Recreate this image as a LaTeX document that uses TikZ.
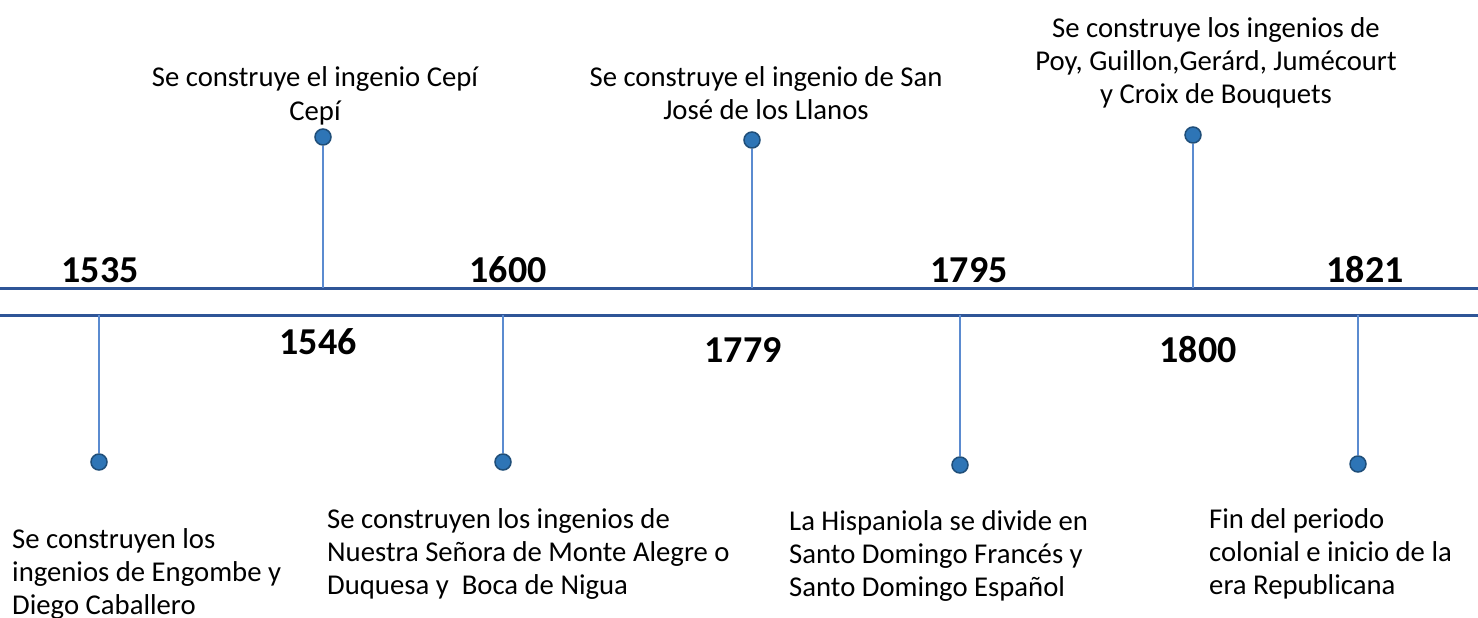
\documentclass[tikz,border=0pt]{standalone}
\usepackage{fontspec}
\setmainfont{Carlito}
\definecolor{axisblue}{HTML}{2F5597}
\definecolor{stemblue}{HTML}{5B8BD0}
\definecolor{dotfill}{HTML}{2E75B6}
\definecolor{dotedge}{HTML}{1F4E79}
\begin{document}
\begin{tikzpicture}[x=1pt,y=-1pt,
  axisline/.style={draw=axisblue,line width=3pt},
  stem/.style={draw=stemblue,line width=1.5pt},
  dotnode/.style={circle,fill=dotfill,draw=dotedge,line width=1.5pt,minimum size=16pt,inner sep=0pt},
  year/.style={font=\fontsize{38}{42}\selectfont\bfseries,inner sep=0pt,anchor=base},
  desc/.style={font=\fontsize{28.7}{33}\selectfont,inner sep=0pt},
]
\useasboundingbox (0,0) rectangle (1478,618);
% axis lines
\coordinate (UL) at (0,288);
\coordinate (UR) at (1478,288);
\coordinate (LL) at (0,315);
\coordinate (LR) at (1478,315);
\draw[axisline] (UL) -- (UR);
\draw[axisline] (LL) -- (LR);
% stem bases
\coordinate (b1546) at (323,288);
\coordinate (b1779) at (752,288);
\coordinate (b1800) at (1193,288);
\coordinate (b1535) at (99,315);
\coordinate (b1600) at (503,315);
\coordinate (b1795) at (960,315);
\coordinate (b1821) at (1358,315);
% dots
\node[dotnode] (d1546) at (323,137) {};
\node[dotnode] (d1779) at (752,140) {};
\node[dotnode] (d1800) at (1193,135) {};
\node[dotnode] (d1535) at (99,462) {};
\node[dotnode] (d1600) at (503,462) {};
\node[dotnode] (d1795) at (960,465) {};
\node[dotnode] (d1821) at (1358,464) {};
\draw[stem] (b1546) -- (d1546);
\draw[stem] (b1779) -- (d1779);
\draw[stem] (b1800) -- (d1800);
\draw[stem] (b1535) -- (d1535);
\draw[stem] (b1600) -- (d1600);
\draw[stem] (b1795) -- (d1795);
\draw[stem] (b1821) -- (d1821);
% years
\node[year] (y1535) at (100,282) {1535};
\node[year] (y1600) at (508,282) {1600};
\node[year] (y1795) at (969,282) {1795};
\node[year] (y1821) at (1365,282) {1821};
\node[year] (y1546) at (318,354) {1546};
\node[year] (y1779) at (743,362) {1779};
\node[year] (y1800) at (1198,362) {1800};
% descriptions (base anchor = baseline of last line)
\node[desc,align=center,anchor=base] (t1546) at (315,120) {Se construye el ingenio Cepí\\Cepí};
\node[desc,align=center,anchor=base] (t1779) at (766,119) {Se construye el ingenio de San\\José de los Llanos};
\node[desc,align=center,anchor=base] (t1800) at (1216,103) {Se construye los ingenios de\\Poy, Guillon,Gerárd, Jumécourt\\y Croix de Bouquets};
\node[desc,align=left,anchor=base west] (t1535) at (12,614) {Se construyen los\\ingenios de Engombe y\\Diego Caballero};
\node[desc,align=left,anchor=base west] (t1600) at (327,594) {Se construyen los ingenios de\\Nuestra Señora de Monte Alegre o\\Duquesa y\ \ Boca de Nigua};
\node[desc,align=left,anchor=base west] (t1795) at (789,596) {La Hispaniola se divide en\\Santo Domingo Francés y\\Santo Domingo Español};
\node[desc,align=left,anchor=base west] (t1821) at (1209,594) {Fin del periodo\\colonial e inicio de la\\era Republicana};
\end{tikzpicture}
\end{document}
